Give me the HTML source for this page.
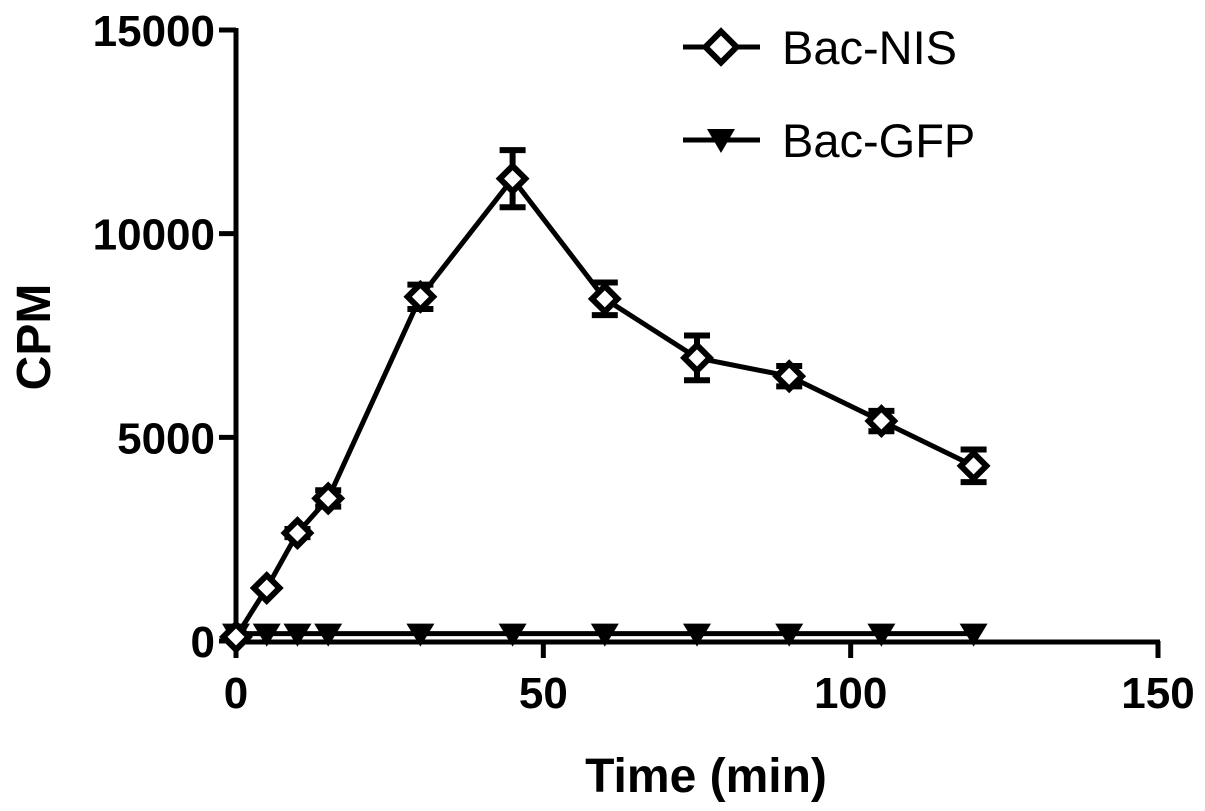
<!DOCTYPE html>
<html><head><meta charset="utf-8"><style>
html,body{margin:0;padding:0;background:#fff;}
svg{display:block;font-family:"Liberation Sans",Arial,sans-serif;font-weight:bold;}
</style></head><body>
<svg id="chart" width="1205" height="811" viewBox="0 0 1205 811">
<g id="axes"></g><g id="series"></g>
<g>
 <g>
  <line x1="683" y1="47" x2="760" y2="47" stroke="#000" stroke-width="5"/>
  <rect x="710" y="36" width="22" height="22" transform="rotate(45 721 47)" fill="#fff" stroke="#000" stroke-width="6"/>
  <text x="782" y="64" font-size="47" font-weight="normal">Bac-NIS</text>
 </g>
 <g>
  <line x1="683" y1="140" x2="760" y2="140" stroke="#000" stroke-width="5"/>
  <polygon points="707,129 735,129 721,153" fill="#000"/>
  <text x="782" y="157" font-size="47" font-weight="normal">Bac-GFP</text>
 </g>
</g>
</svg>
<script>
const times=[0,5,10,15,30,45,60,75,90,105,120];
const nisValues=[100,1300,2650,3500,8450,11350,8400,6950,6500,5400,4300];
const nisErrors=[0,0,100,200,300,700,400,550,250,250,400];
const gfpValues=[180,180,180,180,180,180,180,180,180,180,180];
const xTicks=[0,50,100,150];
const yTicks=[0,5000,10000,15000];
const NS='http://www.w3.org/2000/svg';
const x=v=>236+v*(1158-236)/150;
const y=v=>641-v*(641-30)/15000;
function mk(tag,attrs,parent){const e=document.createElementNS(NS,tag);for(const k in attrs)e.setAttribute(k,attrs[k]);parent.appendChild(e);return e;}
const axes=document.getElementById('axes');
const series=document.getElementById('series');
let a=mk('line',{x1:236,y1:28,x2:236,y2:643,stroke:'#000','stroke-width':5},axes);


a=mk('line',{x1:234,y1:642,x2:1160,y2:642,stroke:'#000','stroke-width':5},axes);


xTicks.forEach(t=>{
 let l=mk('line',{x1:x(t),y1:641,x2:x(t),y2:658,stroke:'#000','stroke-width':5},axes);
 
 
 let tx=mk('text',{x:x(t),y:708,'font-size':44,'text-anchor':'middle'},axes);tx.textContent=t;
 
 
});
yTicks.forEach(t=>{
 let l=mk('line',{x1:219,y1:y(t),x2:236,y2:y(t),stroke:'#000','stroke-width':5},axes);
 
 
 let tx=mk('text',{x:215,y:y(t)+16,'font-size':44,'text-anchor':'end'},axes);tx.textContent=t;
 
 
});
let tt=mk('text',{x:706,y:792,'font-size':48,'text-anchor':'middle'},axes);tt.textContent='Time (min)';


tt=mk('text',{x:0,y:0,'font-size':48,'text-anchor':'middle',transform:'translate(50,337) rotate(-90)'},axes);tt.textContent='CPM';


// GFP
let p=mk('polyline',{points:times.map((t,i)=>x(t)+','+y(gfpValues[i])).join(' '),fill:'none',stroke:'#000','stroke-width':5},series);


times.forEach((t,i)=>{
 const cx=x(t),cy=y(gfpValues[i]);
 let m=mk('polygon',{points:`${cx-14},${cy-10} ${cx+14},${cy-10} ${cx},${cy+13}`,fill:'#000'},series);
 
 
});
// NIS
p=mk('polyline',{points:times.map((t,i)=>x(t)+','+y(nisValues[i])).join(' '),fill:'none',stroke:'#000','stroke-width':5},series);


times.forEach((t,i)=>{
 const cx=x(t),cy=y(nisValues[i]),e=nisErrors[i];
 if(e>0){
  const g=mk('g',{},series);
  
  
  const y1=y(nisValues[i]+e),y2=y(nisValues[i]-e);
  mk('line',{x1:cx,y1:y1,x2:cx,y2:y2,stroke:'#000','stroke-width':6},g);
  mk('line',{x1:cx-13,y1:y1,x2:cx+13,y2:y1,stroke:'#000','stroke-width':6},g);
  mk('line',{x1:cx-13,y1:y2,x2:cx+13,y2:y2,stroke:'#000','stroke-width':6},g);
 }
 let m=mk('rect',{x:cx-9,y:cy-9,width:18,height:18,transform:`rotate(45 ${cx} ${cy})`,fill:'#fff',stroke:'#000','stroke-width':6},series);
 
 
});
</script>
</body></html>
